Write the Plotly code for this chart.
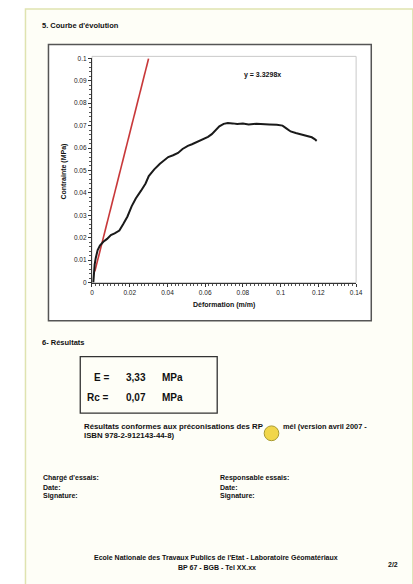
import plotly.graph_objects as go

W, H = 413, 584

# ---- data ----
strain = [0.0007, 0.0010, 0.0014, 0.0020, 0.0030, 0.0042, 0.0060, 0.0080, 0.0100, 0.0120,
          0.0145, 0.0165, 0.0188, 0.0210, 0.0232, 0.0260, 0.0284, 0.0301, 0.0330, 0.0360,
          0.0385, 0.0404, 0.0430, 0.0456, 0.0480, 0.0508, 0.0530, 0.0560, 0.0595, 0.0615,
          0.0635, 0.0655, 0.0675, 0.0698, 0.0720, 0.0745, 0.0770, 0.0800, 0.0830, 0.0871,
          0.0900, 0.0940, 0.0980, 0.1010, 0.1030, 0.1053, 0.1080, 0.1113, 0.1140, 0.1165,
          0.1180, 0.1191]
stress = [0.0000, 0.0040, 0.0080, 0.0110, 0.0145, 0.0165, 0.0182, 0.0195, 0.0212, 0.0220,
          0.0232, 0.0260, 0.0295, 0.0340, 0.0375, 0.0410, 0.0442, 0.0475, 0.0505, 0.0530,
          0.0548, 0.0560, 0.0568, 0.0578, 0.0596, 0.0610, 0.0617, 0.0628, 0.0641, 0.0650,
          0.0662, 0.0680, 0.0697, 0.0708, 0.0712, 0.0710, 0.0707, 0.0709, 0.0705, 0.0708,
          0.0706, 0.0705, 0.0704, 0.0700, 0.0688, 0.0674, 0.0667, 0.0659, 0.0655, 0.0648,
          0.0640, 0.0632]

trend_x = [0.0015, 0.0300]
trend_y = [0.0050, 0.0999]
trend_label = "y = 3.3298x"

y_ticks = [0, 0.01, 0.02, 0.03, 0.04, 0.05, 0.06, 0.07, 0.08, 0.09, 0.1]
y_tick_text = ["0", "0.01", "0.02", "0.03", "0.04", "0.05", "0.06", "0.07", "0.08", "0.09", "0.1"]
x_ticks = [0, 0.02, 0.04, 0.06, 0.08, 0.1, 0.12, 0.14]
x_tick_text = ["0", "0.02", "0.04", "0.06", "0.08", "0.1", "0.12", "0.14"]

E_value = "3,33"
Rc_value = "0,07"


def px(x):
    return x / W


def py(y):
    return 1 - y / H


FONT = "Liberation Sans, Arial, sans-serif"

fig = go.Figure()
fig.add_trace(go.Scatter(x=trend_x, y=trend_y, mode="lines",
                         line=dict(color="#c8383a", width=1.6), showlegend=False,
                         hoverinfo="skip"))
fig.add_trace(go.Scatter(x=strain, y=stress, mode="lines",
                         line=dict(color="#1a1a1a", width=2), showlegend=False))

shapes = []
# page frame
shapes.append(dict(type="rect", xref="paper", yref="paper", x0=px(24), x1=px(420),
                   y0=py(600), y1=py(5), line=dict(color="#dfe3b0", width=1.5),
                   fillcolor="#fefef7", layer="below"))
# chart outer box
shapes.append(dict(type="rect", xref="paper", yref="paper", x0=px(47.5), x1=px(377.5),
                   y0=py(320.5), y1=py(41), line=dict(color="#555555", width=1.5),
                   fillcolor="white", layer="below"))
# light plot-area box
shapes.append(dict(type="rect", xref="paper", yref="paper", x0=px(92), x1=px(362),
                   y0=py(282), y1=py(53), line=dict(color="#c9c9c9", width=1),
                   layer="below"))
# results box
shapes.append(dict(type="rect", xref="paper", yref="paper", x0=px(80), x1=px(220),
                   y0=py(414), y1=py(357), line=dict(color="#333333", width=1.3)))
# logo (yellow round stamp)
shapes.append(dict(type="circle", xref="paper", yref="paper", x0=px(268), x1=px(283),
                   y0=py(442), y1=py(427), line=dict(color="#a89a30", width=1),
                   fillcolor="#f1d64a"))

ann = []


def text(x, y, s, size=5.5, bold=True, anchor="left", color="#111"):
    ann.append(dict(x=px(x), y=py(y), xref="paper", yref="paper", text=(f"<b>{s}</b>" if bold else s),
                    showarrow=False, xanchor=anchor, yanchor="middle",
                    font=dict(family=FONT, size=size, color=color)))


text(39, 22, "5. Courbe d'évolution", 7.5)
text(245, 72, trend_label, 7)
text(227, 305, "Déformation (m/m)", 7, anchor="center")
ann.append(dict(x=px(63), y=py(170), xref="paper", yref="paper", text="<b>Contrainte (MPa)</b>",
                showarrow=False, textangle=-90, xanchor="center", yanchor="middle",
                font=dict(family=FONT, size=7, color="#111")))
text(39, 343, "6- Résultats", 7.5)
text(111, 378, "E =", 10, anchor="right")
text(125, 378, E_value, 10)
text(162, 378, "MPa", 10)
text(111, 398, "Rc =", 10, anchor="right")
text(125, 398, Rc_value, 10)
text(162, 398, "MPa", 10)
text(82, 428, "Résultats conformes aux préconisations des RP", 7.8)
text(285, 428, "mél (version avril 2007 -", 7.4)
text(82, 437, "ISBN 978-2-912143-44-8)", 7.8)
text(40, 480, "Chargé d'essais:", 7)
text(40, 489, "Date:", 7)
text(40, 498, "Signature:", 7)
text(221, 480, "Responsable essais:", 7)
text(221, 489, "Date:", 7)
text(221, 498, "Signature:", 7)
text(219, 560, "Ecole Nationale des Travaux Publics de l'Etat - Laboratoire Géomatériaux", 7, anchor="center")
text(220, 570, "BP 67 - BGB - Tel XX.xx", 7, anchor="center")
text(400, 567, "2/2", 7, anchor="center")

fig.update_layout(
    width=W, height=H, margin=dict(l=0, r=0, t=0, b=0),
    paper_bgcolor="white", plot_bgcolor="rgba(0,0,0,0)",
    shapes=shapes, annotations=ann, showlegend=False,
    xaxis=dict(domain=[px(92), px(362)], range=[0, 0.14], tickvals=x_ticks, ticktext=x_tick_text,
               showgrid=False, zeroline=False, showline=True, linecolor="#333", linewidth=1.2,
               ticks="outside", ticklen=3, tickcolor="#333",
               minor=dict(ticks="outside", dtick=0.002, ticklen=2, tickcolor="#555"),
               tickfont=dict(family=FONT, size=6.5, color="#222"), anchor="y"),
    yaxis=dict(domain=[py(282), py(55)], range=[0, 0.1], tickvals=y_ticks, ticktext=y_tick_text,
               showgrid=False, zeroline=False, showline=True, linecolor="#333", linewidth=1.2,
               ticks="outside", ticklen=3, tickcolor="#333",
               minor=dict(ticks="outside", dtick=0.002, ticklen=2, tickcolor="#555"),
               tickfont=dict(family=FONT, size=6.5, color="#222"), anchor="x"),
)

fig.write_html("out.html", config={"displayModeBar": False},
               post_script="document.body.style.margin='0';document.body.style.overflow='hidden';")
